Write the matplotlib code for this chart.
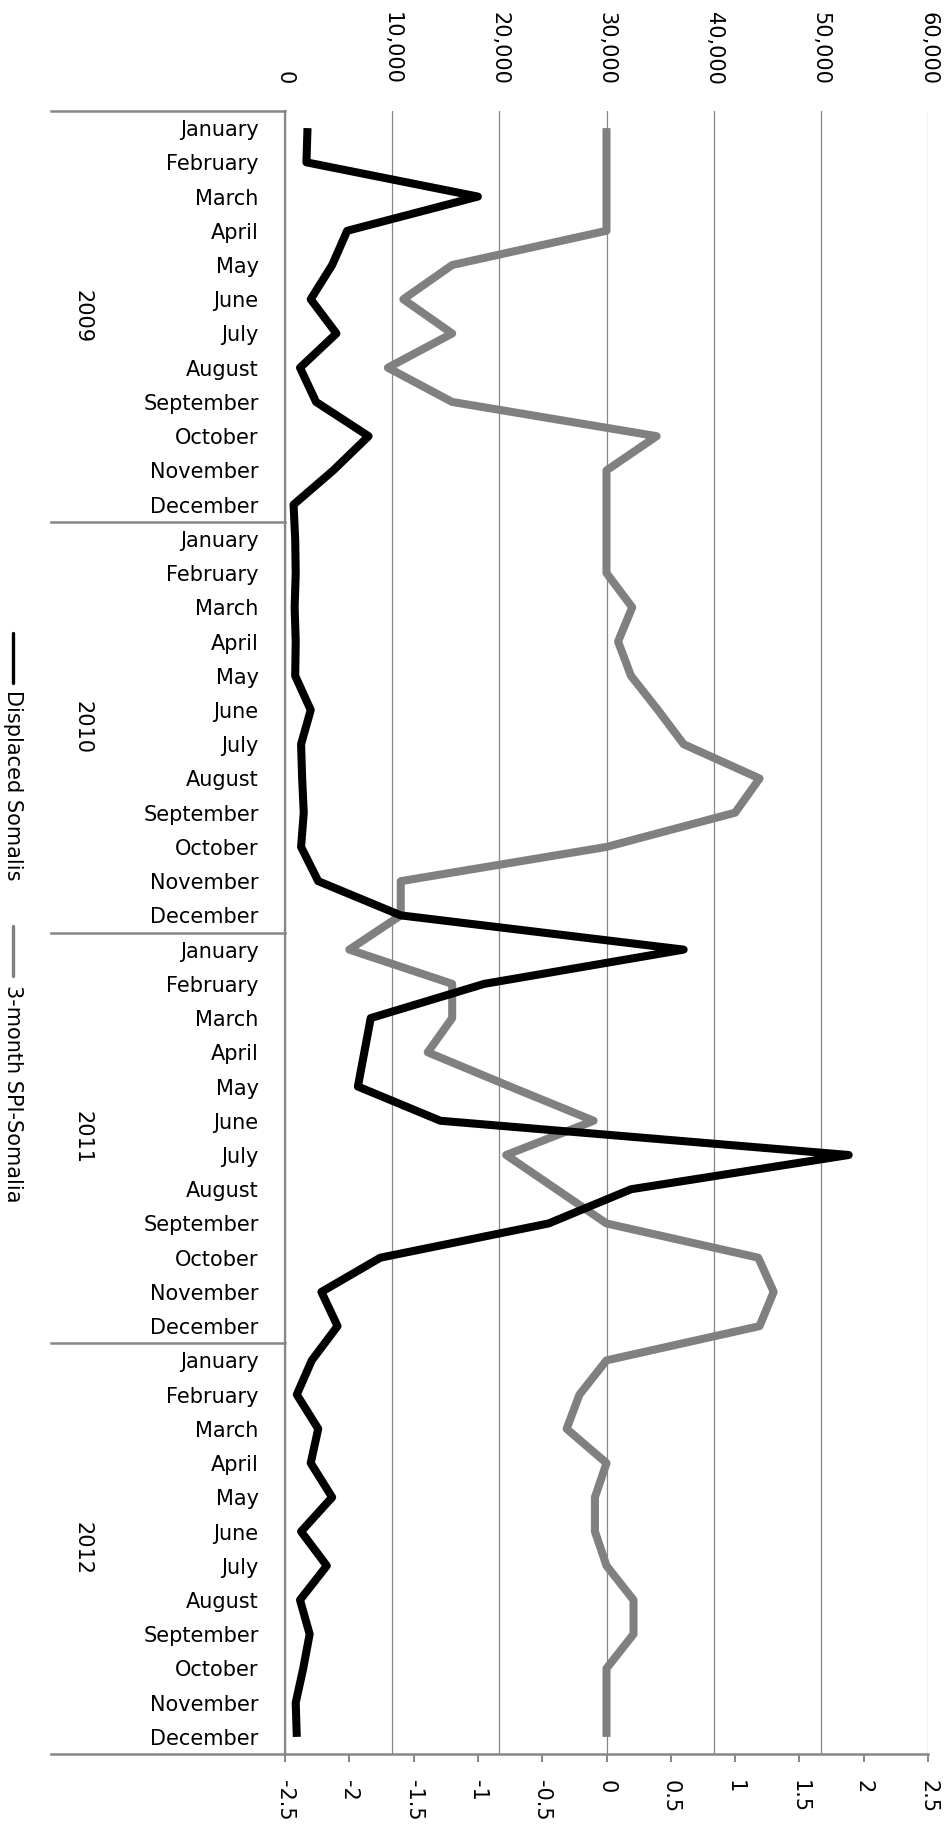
import matplotlib
matplotlib.use('Agg')
import matplotlib.pyplot as plt
import matplotlib.transforms as mtransforms
from matplotlib.lines import Line2D

# Data
####################################################################
years = ['2009', '2010', '2011', '2012']
months = ['January', 'February', 'March', 'April', 'May', 'June', 'July',
          'August', 'September', 'October', 'November', 'December']

displaced_2009 = [2100, 2000, 18000, 5800, 4400, 2400, 4800, 1400, 2900, 7800, 4500, 800]
displaced_2010 = [950, 1000, 900, 1000, 950, 2400, 1500, 1600, 1750, 1500, 3100, 10800]
displaced_2011 = [37200, 18600, 8000, 7400, 6800, 14500, 52600, 32300, 24600, 8900, 3400, 4900]
displaced_2012 = [2500, 1100, 3100, 2400, 4400, 1500, 3900, 1400, 2300, 1700, 1000, 1100]

spi_2009 = [0, 0, 0, 0, -1.2, -1.58, -1.2, -1.7, -1.2, 0.39, 0, 0]
spi_2010 = [0, 0, 0.2, 0.09, 0.19, 0.4, 0.6, 1.19, 1.0, 0.0, -1.6, -1.6]
spi_2011 = [-2.0, -1.2, -1.2, -1.39, -0.75, -0.1, -0.78, -0.39, 0, 1.18, 1.3, 1.19]
spi_2012 = [0, -0.21, -0.31, 0, -0.09, -0.09, 0, 0.21, 0.21, 0, 0, 0]

displaced_ticks = [0, 10000, 20000, 30000, 40000, 50000, 60000]
displaced_labels = ['0', '10,000', '20,000', '30,000', '40,000', '50,000', '60,000']
spi_ticks = [-2.5, -2, -1.5, -1, -0.5, 0, 0.5, 1, 1.5, 2, 2.5]
spi_labels = ['-2.5', '-2', '-1.5', '-1', '-0.5', '0', '0.5', '1', '1.5', '2', '2.5']

displaced = displaced_2009 + displaced_2010 + displaced_2011 + displaced_2012
spi = spi_2009 + spi_2010 + spi_2011 + spi_2012
month_labels = months * len(years)
pos = list(range(len(month_labels)))

GRID = '#878787'
W = 951.0
H = 1836.0

# Plot (chart drawn as if rotated 90 degrees clockwise)
##########################################################
fig = plt.figure(figsize=(9.51, 18.36), dpi=100)
ax = fig.add_axes([285 / W, 1 - 1754 / H, 643 / W, 1643 / H])
ax2 = ax.twiny()

ax.set_xlim(0, 60000)
ax2.set_xlim(-2.5, 2.5)
ax.set_ylim(len(pos) - 0.5, -0.5)

# gray SPI line drawn in ax with the secondary scale so black stays on top
ax.plot(spi, pos, transform=ax2.transData, color='#808080', lw=5.8,
        solid_capstyle='butt', solid_joinstyle='round', zorder=3)
ax.plot(displaced, pos, color='black', lw=5.8,
        solid_capstyle='butt', solid_joinstyle='round', zorder=4)

# primary axis on top
ax.xaxis.tick_top()
ax.set_xticks(displaced_ticks)
ax.set_xticklabels(displaced_labels, rotation=-90, fontsize=15)
ax.tick_params(axis='x', length=0, pad=19)
ax.grid(True, axis='x', color=GRID, lw=0.9, zorder=1)
ax.set_axisbelow(True)

# category axis on the left
ax.set_yticks(pos)
ax.set_yticklabels(month_labels, fontsize=15)
ax.tick_params(axis='y', length=0, pad=19)

for s in ['top', 'right', 'bottom']:
    ax.spines[s].set_visible(False)
ax.spines['left'].set_color(GRID)
ax.spines['left'].set_linewidth(1.6)

# secondary axis at the bottom
ax2.xaxis.tick_bottom()
ax2.set_xticks(spi_ticks)
ax2.set_xticklabels(spi_labels, rotation=-90, fontsize=15)
ax2.tick_params(axis='x', length=6, width=1.4, color=GRID, pad=13, direction='out')
for s in ['top', 'right', 'left']:
    ax2.spines[s].set_visible(False)
ax2.spines['bottom'].set_color(GRID)
ax2.spines['bottom'].set_linewidth(1.8)

# year groups
trans = mtransforms.blended_transform_factory(ax.transAxes, ax.transData)
for i, yr in enumerate(years):
    ax.text((83 - 285) / 643, i * 12 + 5.5, yr, transform=trans, rotation=-90,
            ha='center', va='center', fontsize=15)
for i in range(len(years) + 1):
    ax.plot([(51 - 285) / 643, 0], [i * 12 - 0.5, i * 12 - 0.5], transform=trans,
            color=GRID, lw=1.8, clip_on=False)

# legend, rotated
fig.add_artist(Line2D([13 / W, 13 / W], [1 - 633 / H, 1 - 683 / H],
                      color='black', lw=2.4, solid_capstyle='round',
                      transform=fig.transFigure))
fig.text(13 / W, 1 - 690 / H, 'Displaced Somalis', rotation=-90,
         ha='center', va='top', fontsize=15)
fig.add_artist(Line2D([13 / W, 13 / W], [1 - 926 / H, 1 - 976 / H],
                      color='#808080', lw=2.4, solid_capstyle='round',
                      transform=fig.transFigure))
fig.text(13 / W, 1 - 985 / H, '3-month SPI-Somalia', rotation=-90,
         ha='center', va='top', fontsize=15)

fig.savefig('out.png', dpi=100)
